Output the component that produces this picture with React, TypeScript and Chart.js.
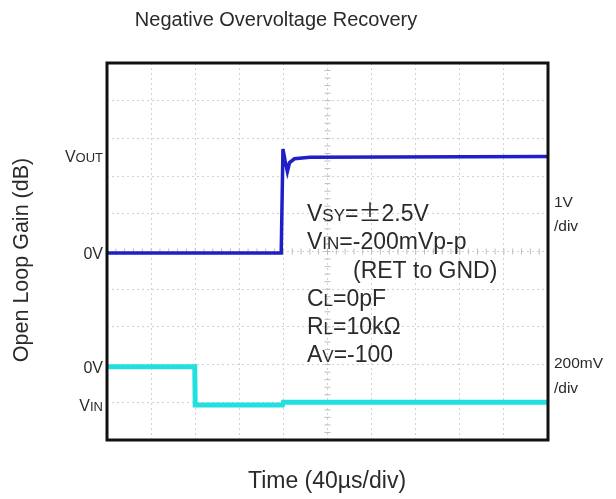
import React, { useEffect, useRef } from "react";
import { Chart, registerables } from "chart.js";
Chart.register(...registerables);

// Time in divisions (40µs/div), level in screen divisions
const voutTime = [0, 3.95, 3.99, 4.04, 4.09, 4.14, 4.25, 4.6, 10];
const voutLevel = [4.96, 4.96, 7.72, 7.4, 7.12, 7.36, 7.46, 7.5, 7.52];
const vinTime = [0, 1.99, 2.0, 3.98, 4.0, 10];
const vinLevel = [1.94, 1.94, 0.93, 0.93, 1.0, 1.0];

const chartTitle = "Negative Overvoltage Recovery";
const xTitle = "Time (40µs/div)";
const yTitle = "Open Loop Gain (dB)";
const voutScale = ["1V", "/div"];
const vinScale = ["200mV", "/div"];
// [main, subscript, rest]
const conditions: [string, string, string][] = [
  ["V", "SY", "=\u00B12.5V"],
  ["V", "IN", "=-200mVp-p"],
  ["", "", "(RET to GND)"],
  ["C", "L", "=0pF"],
  ["R", "L", "=10k\u03A9"],
  ["A", "V", "=-100"],
];

const FONT = '"Liberation Sans", Arial, sans-serif';
const CJK = '"Noto Sans CJK JP", "Liberation Sans", sans-serif';

type Seg = [string, number, string?];

function drawSeg(ctx: CanvasRenderingContext2D, x: number, y: number, segs: Seg[], align: "left" | "right") {
  let total = 0;
  for (const [t, s, f] of segs) {
    ctx.font = `${s}px ${f || FONT}`;
    total += ctx.measureText(t).width;
  }
  let cx = align === "left" ? x : x - total;
  ctx.textAlign = "left";
  ctx.textBaseline = "alphabetic";
  for (const [t, s, f] of segs) {
    ctx.font = `${s}px ${f || FONT}`;
    ctx.fillText(t, cx, y);
    cx += ctx.measureText(t).width;
  }
}

function splitPlusMinus(text: string, size: number): Seg[] {
  const out: Seg[] = [];
  const parts = text.split("\u00B1");
  parts.forEach((p, i) => {
    if (i > 0) out.push(["\u00B1", size, CJK]);
    if (p) out.push([p, size]);
  });
  return out;
}

const minorTicks = {
  id: "minorTicks",
  beforeDatasetsDraw(chart: any) {
    const { ctx, scales } = chart;
    const xs = scales.x, ys = scales.y;
    ctx.save();
    ctx.strokeStyle = "#bdbdbd";
    ctx.lineWidth = 1;
    const cx = xs.getPixelForValue(5), cy = ys.getPixelForValue(5);
    for (let i = 0; i <= 50; i++) {
      const px = xs.getPixelForValue(i / 5);
      ctx.beginPath(); ctx.moveTo(px, cy - 3); ctx.lineTo(px, cy + 3); ctx.stroke();
      const py = ys.getPixelForValue(i / 5);
      ctx.beginPath(); ctx.moveTo(cx - 3, py); ctx.lineTo(cx + 3, py); ctx.stroke();
    }
    ctx.restore();
  },
};

const decor = {
  id: "decor",
  afterDraw(chart: any) {
    const { ctx, chartArea: a, scales } = chart;
    const ys = scales.y;
    ctx.save();
    // frame
    ctx.strokeStyle = "#111";
    ctx.lineWidth = 3;
    ctx.strokeRect(a.left, a.top, a.right - a.left, a.bottom - a.top);

    ctx.fillStyle = "#2a2a2a";
    ctx.textAlign = "center";
    ctx.textBaseline = "middle";
    ctx.font = `20px ${FONT}`;
    ctx.fillText(chartTitle, 276, 20);
    ctx.font = `23px ${FONT}`;
    ctx.fillText(xTitle, 327, 482);
    ctx.save();
    ctx.font = `21.5px ${FONT}`;
    ctx.translate(22, 260);
    ctx.rotate(-Math.PI / 2);
    ctx.fillText(yTitle, 0, 0);
    ctx.restore();

    // left labels
    const lx = a.left - 4;
    drawSeg(ctx, lx, ys.getPixelForValue(voutLevel[voutLevel.length - 1]) + 6, [["V", 16], ["OUT", 13]], "right");
    drawSeg(ctx, lx, ys.getPixelForValue(voutLevel[0]) + 6, [["0V", 16]], "right");
    drawSeg(ctx, lx, ys.getPixelForValue(vinLevel[0]) + 6, [["0V", 16]], "right");
    drawSeg(ctx, lx, ys.getPixelForValue(vinLevel[2]) + 6, [["V", 16], ["IN", 13]], "right");

    // right labels
    const rx = a.right + 6;
    drawSeg(ctx, rx, 207, [[voutScale[0], 15.5]], "left");
    drawSeg(ctx, rx, 231, [[voutScale[1], 15.5]], "left");
    drawSeg(ctx, rx, 368, [[vinScale[0], 15.5]], "left");
    drawSeg(ctx, rx, 393, [[vinScale[1], 15.5]], "left");

    // conditions
    const baseY = [221, 249, 278, 306, 334, 362];
    conditions.forEach((c, i) => {
      const x = c[0] ? 307 : 353;
      const segs: Seg[] = [];
      if (c[0]) segs.push([c[0], 23]);
      if (c[1]) segs.push([c[1], 17]);
      segs.push(...splitPlusMinus(c[2], 23));
      drawSeg(ctx, x, baseY[i], segs, "left");
    });
    ctx.restore();
  },
};

export default function App() {
  const ref = useRef<HTMLCanvasElement>(null);
  useEffect(() => {
    const chart = new Chart(ref.current!, {
      type: "line",
      data: {
        datasets: [
          {
            data: voutTime.map((t, i) => ({ x: t, y: voutLevel[i] })),
            borderColor: "#1f1fc8",
            borderWidth: 3.5,
            pointRadius: 0,
            tension: 0,
          },
          {
            data: vinTime.map((t, i) => ({ x: t, y: vinLevel[i] })),
            borderColor: "#22e0e0",
            borderWidth: 5,
            pointRadius: 0,
            tension: 0,
          },
        ],
      },
      options: {
        animation: false,
        responsive: false,
        devicePixelRatio: 1,
        layout: { padding: { left: 107, top: 63, right: 68, bottom: 59 } },
        plugins: { legend: { display: false }, tooltip: { enabled: false }, title: { display: false } },
        scales: {
          x: {
            type: "linear",
            min: 0,
            max: 10,
            ticks: { display: false, stepSize: 1 },
            grid: { color: "#d2d2d2", drawTicks: false, lineWidth: 1 },
            border: { display: false, dash: [2, 3] },
          },
          y: {
            type: "linear",
            min: 0,
            max: 10,
            ticks: { display: false, stepSize: 1 },
            grid: { color: "#d2d2d2", drawTicks: false, lineWidth: 1 },
            border: { display: false, dash: [2, 3] },
          },
        },
      },
      plugins: [minorTicks, decor],
    });
    return () => chart.destroy();
  }, []);
  return (
    <div style={{ position: "absolute", left: 0, top: 0, width: 616, height: 499, background: "#fff" }}>
      <canvas ref={ref} width={616} height={499} />
    </div>
  );
}
